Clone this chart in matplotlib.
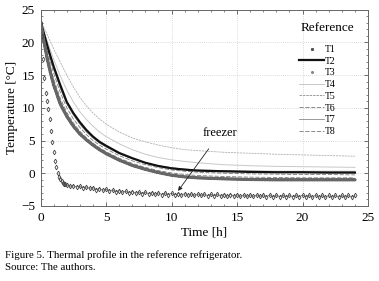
import numpy as np
import matplotlib
matplotlib.use("Agg")
import matplotlib.pyplot as plt
from matplotlib.lines import Line2D
from matplotlib.ticker import MultipleLocator

# time grid of the smooth curves [h]
t = [0, 0.25, 0.5, 0.75, 1, 1.5, 2, 2.5, 3, 3.5, 4, 4.5, 5, 6, 7, 8, 9, 10,
     11, 12, 14, 16, 18, 20, 22, 24]

T2 = [23.2, 21.4, 19.6, 17.9, 16.3, 13.5, 10.9, 9.2, 7.8, 6.6, 5.6, 4.8, 4.2,
      3.1, 2.3, 1.6, 1.1, 0.75, 0.55, 0.4, 0.3, 0.2, 0.15, 0.15, 0.1, 0.1]
T3 = [23.0, 20.2, 17.6, 15.4, 13.5, 10.6, 8.7, 7.2, 6.0, 5.1, 4.3, 3.6, 3.0,
      2.0, 1.2, 0.6, 0.1, -0.3, -0.55, -0.7, -0.85, -0.95, -1.0, -1.0, -1.0, -1.0]
T4 = [23.3, 21.7, 20.2, 18.8, 17.4, 14.9, 12.7, 10.9, 9.4, 8.2, 7.2, 6.3, 5.6,
      4.5, 3.6, 2.9, 2.4, 2.05, 1.8, 1.6, 1.3, 1.15, 1.05, 1.0, 0.95, 0.9]
T5 = [23.3, 22.3, 21.2, 20.1, 19.0, 17.0, 15.0, 13.2, 11.6, 10.3, 9.2, 8.3, 7.5,
      6.3, 5.4, 4.8, 4.3, 3.9, 3.6, 3.45, 3.2, 3.05, 2.9, 2.8, 2.7, 2.6]
T6 = [23.1, 20.9, 18.8, 17.0, 15.3, 12.4, 10.0, 8.3, 7.0, 5.9, 5.0, 4.3, 3.7,
      2.7, 1.9, 1.3, 0.85, 0.5, 0.3, 0.15, 0.0, -0.1, -0.15, -0.2, -0.2, -0.25]
T7 = [23.2, 21.2, 19.3, 17.5, 15.9, 13.0, 10.6, 8.9, 7.5, 6.3, 5.4, 4.6, 4.0,
      3.0, 2.2, 1.6, 1.15, 0.85, 0.65, 0.5, 0.4, 0.35, 0.3, 0.3, 0.3, 0.3]
T8 = [23.0, 20.5, 18.2, 16.2, 14.4, 11.5, 9.3, 7.7, 6.4, 5.4, 4.6, 3.9, 3.3,
      2.3, 1.5, 0.9, 0.4, 0.05, -0.2, -0.35, -0.5, -0.6, -0.65, -0.7, -0.7, -0.7]

# freezer (T1), sampled densely: 0.1 h up to 2 h, then 0.25 h
t1 = np.round(np.concatenate([np.arange(0, 2.0, 0.1), np.arange(2.0, 24.01, 0.25)]), 2)
T1 = [23.0, 21.0, 17.5, 14.5, 12.3, 11.0, 9.8, 8.3, 6.5, 4.8,
      3.2, 1.9, 0.9, 0.1, -0.5, -0.9, -1.2, -1.45, -1.6, -1.7,
      -1.8, -2.0, -1.9, -2.1, -2.0, -2.2, -2.1, -2.3,
      -2.2, -2.5, -2.35, -2.6, -2.45, -2.7, -2.55, -2.8,
      -2.65, -2.9, -2.75, -3.0, -2.8, -3.05, -2.85, -3.1,
      -2.9, -3.15, -2.95, -3.2, -3.0, -3.25, -3.0, -3.3,
      -3.05, -3.3, -3.1, -3.35, -3.1, -3.35, -3.15, -3.4,
      -3.15, -3.4, -3.2, -3.45, -3.2, -3.45, -3.2, -3.5,
      -3.25, -3.5, -3.25, -3.5, -3.25, -3.55, -3.3, -3.55,
      -3.3, -3.55, -3.3, -3.55, -3.3, -3.6, -3.3, -3.6,
      -3.35, -3.6, -3.35, -3.6, -3.35, -3.6, -3.35, -3.6,
      -3.35, -3.6, -3.35, -3.65, -3.35, -3.65, -3.4, -3.65,
      -3.4, -3.65, -3.4, -3.65, -3.4, -3.65, -3.4, -3.65,
      -3.4]

labels = ["T1", "T2", "T3", "T4", "T5", "T6", "T7", "T8"]

plt.rcParams.update({"font.family": "serif", "font.serif": ["Liberation Serif"],
                     "font.size": 9})

fig = plt.figure(figsize=(3.79, 2.81), dpi=100)
ax = fig.add_axes([0.107, 0.267, 0.864, 0.699])

ax.plot(t, T5, color="#b0b0b0", lw=0.6, ls=(0, (2.5, 1)))
ax.plot(t, T4, color="#c8c8c8", lw=0.7)
ax.plot(t, T7, color="#8a8a8a", lw=0.6)
ax.plot(t, T6, color="#7a7a7a", lw=0.6, ls=(0, (5, 2)))
ax.plot(t, T8, color="#7a7a7a", lw=0.6, ls=(0, (5, 2)))
ax.plot(t, T2, color="#111111", lw=1.6)
ax.plot(t, T3, color="#666666", lw=2.4, ls=(0, (0.25, 0.5)),
        dash_capstyle="round")
# freezer: zigzag band after the fast pull-down
ax.plot(t1[19:], T1[19:], color="#666666", lw=0.5)
ax.plot(t1, T1, ls="none", marker="d", ms=2.4, mfc="none", mec="#444444",
        mew=0.6)

ax.annotate("freezer", xy=(10.5, -2.7), xytext=(13.7, 6.1), ha="center",
            va="center", fontsize=9,
            arrowprops=dict(arrowstyle="-|>", lw=0.6, color="#222222",
                            mutation_scale=6, shrinkA=6, shrinkB=0))

ax.set_xlim(0, 25)
ax.set_ylim(-5, 25)
ax.xaxis.set_major_locator(MultipleLocator(5))
ax.xaxis.set_minor_locator(MultipleLocator(1))
ax.yaxis.set_major_locator(MultipleLocator(5))
ax.yaxis.set_minor_locator(MultipleLocator(1))
ax.tick_params(which="both", direction="in", top=True, right=True,
               color="#555555", labelsize=9.5, pad=4)
ax.tick_params(which="major", length=3, width=0.6)
ax.tick_params(which="minor", length=1.5, width=0.5)
for s in ax.spines.values():
    s.set_color("#666666")
    s.set_linewidth(0.7)
ax.grid(True, which="major", ls=(0, (1, 1.5)), color="#cfcfcf", lw=0.6)
ax.set_xlabel("Time [h]", fontsize=9.5, labelpad=2)
ax.set_ylabel("Temperature [°C]", fontsize=9.5, labelpad=2)

handles = [
    Line2D([], [], ls="none", marker="s", ms=1.2, color="#555555"),
    Line2D([], [], color="#111111", lw=1.6),
    Line2D([], [], ls="none", marker="o", ms=1.2, color="#888888"),
    Line2D([], [], color="#c8c8c8", lw=0.7),
    Line2D([], [], color="#9a9a9a", lw=0.7, ls=(0, (2.5, 1))),
    Line2D([], [], color="#7a7a7a", lw=0.6, ls=(0, (5, 2))),
    Line2D([], [], color="#8a8a8a", lw=0.6),
    Line2D([], [], color="#7a7a7a", lw=0.6, ls=(0, (5, 2))),
]
ax.legend(handles, labels, loc="upper left",
          bbox_to_anchor=(299 / 379, 1 - 45 / 281),
          bbox_transform=fig.transFigure, frameon=False, fontsize=7,
          handlelength=2.6, handletextpad=0.1, labelspacing=0.28,
          borderpad=0, borderaxespad=0)
fig.text(327 / 379, 1 - 28 / 281, "Reference", fontsize=9.5, ha="center",
         va="center")

fig.text(5 / 379, 1 - 255 / 281, "Figure 5. Thermal profile in the reference refrigerator.",
         fontsize=7.8, va="center")
fig.text(5 / 379, 1 - 267 / 281, "Source: The authors.", fontsize=7.8, va="center")

fig.savefig("out.png", dpi=100)
